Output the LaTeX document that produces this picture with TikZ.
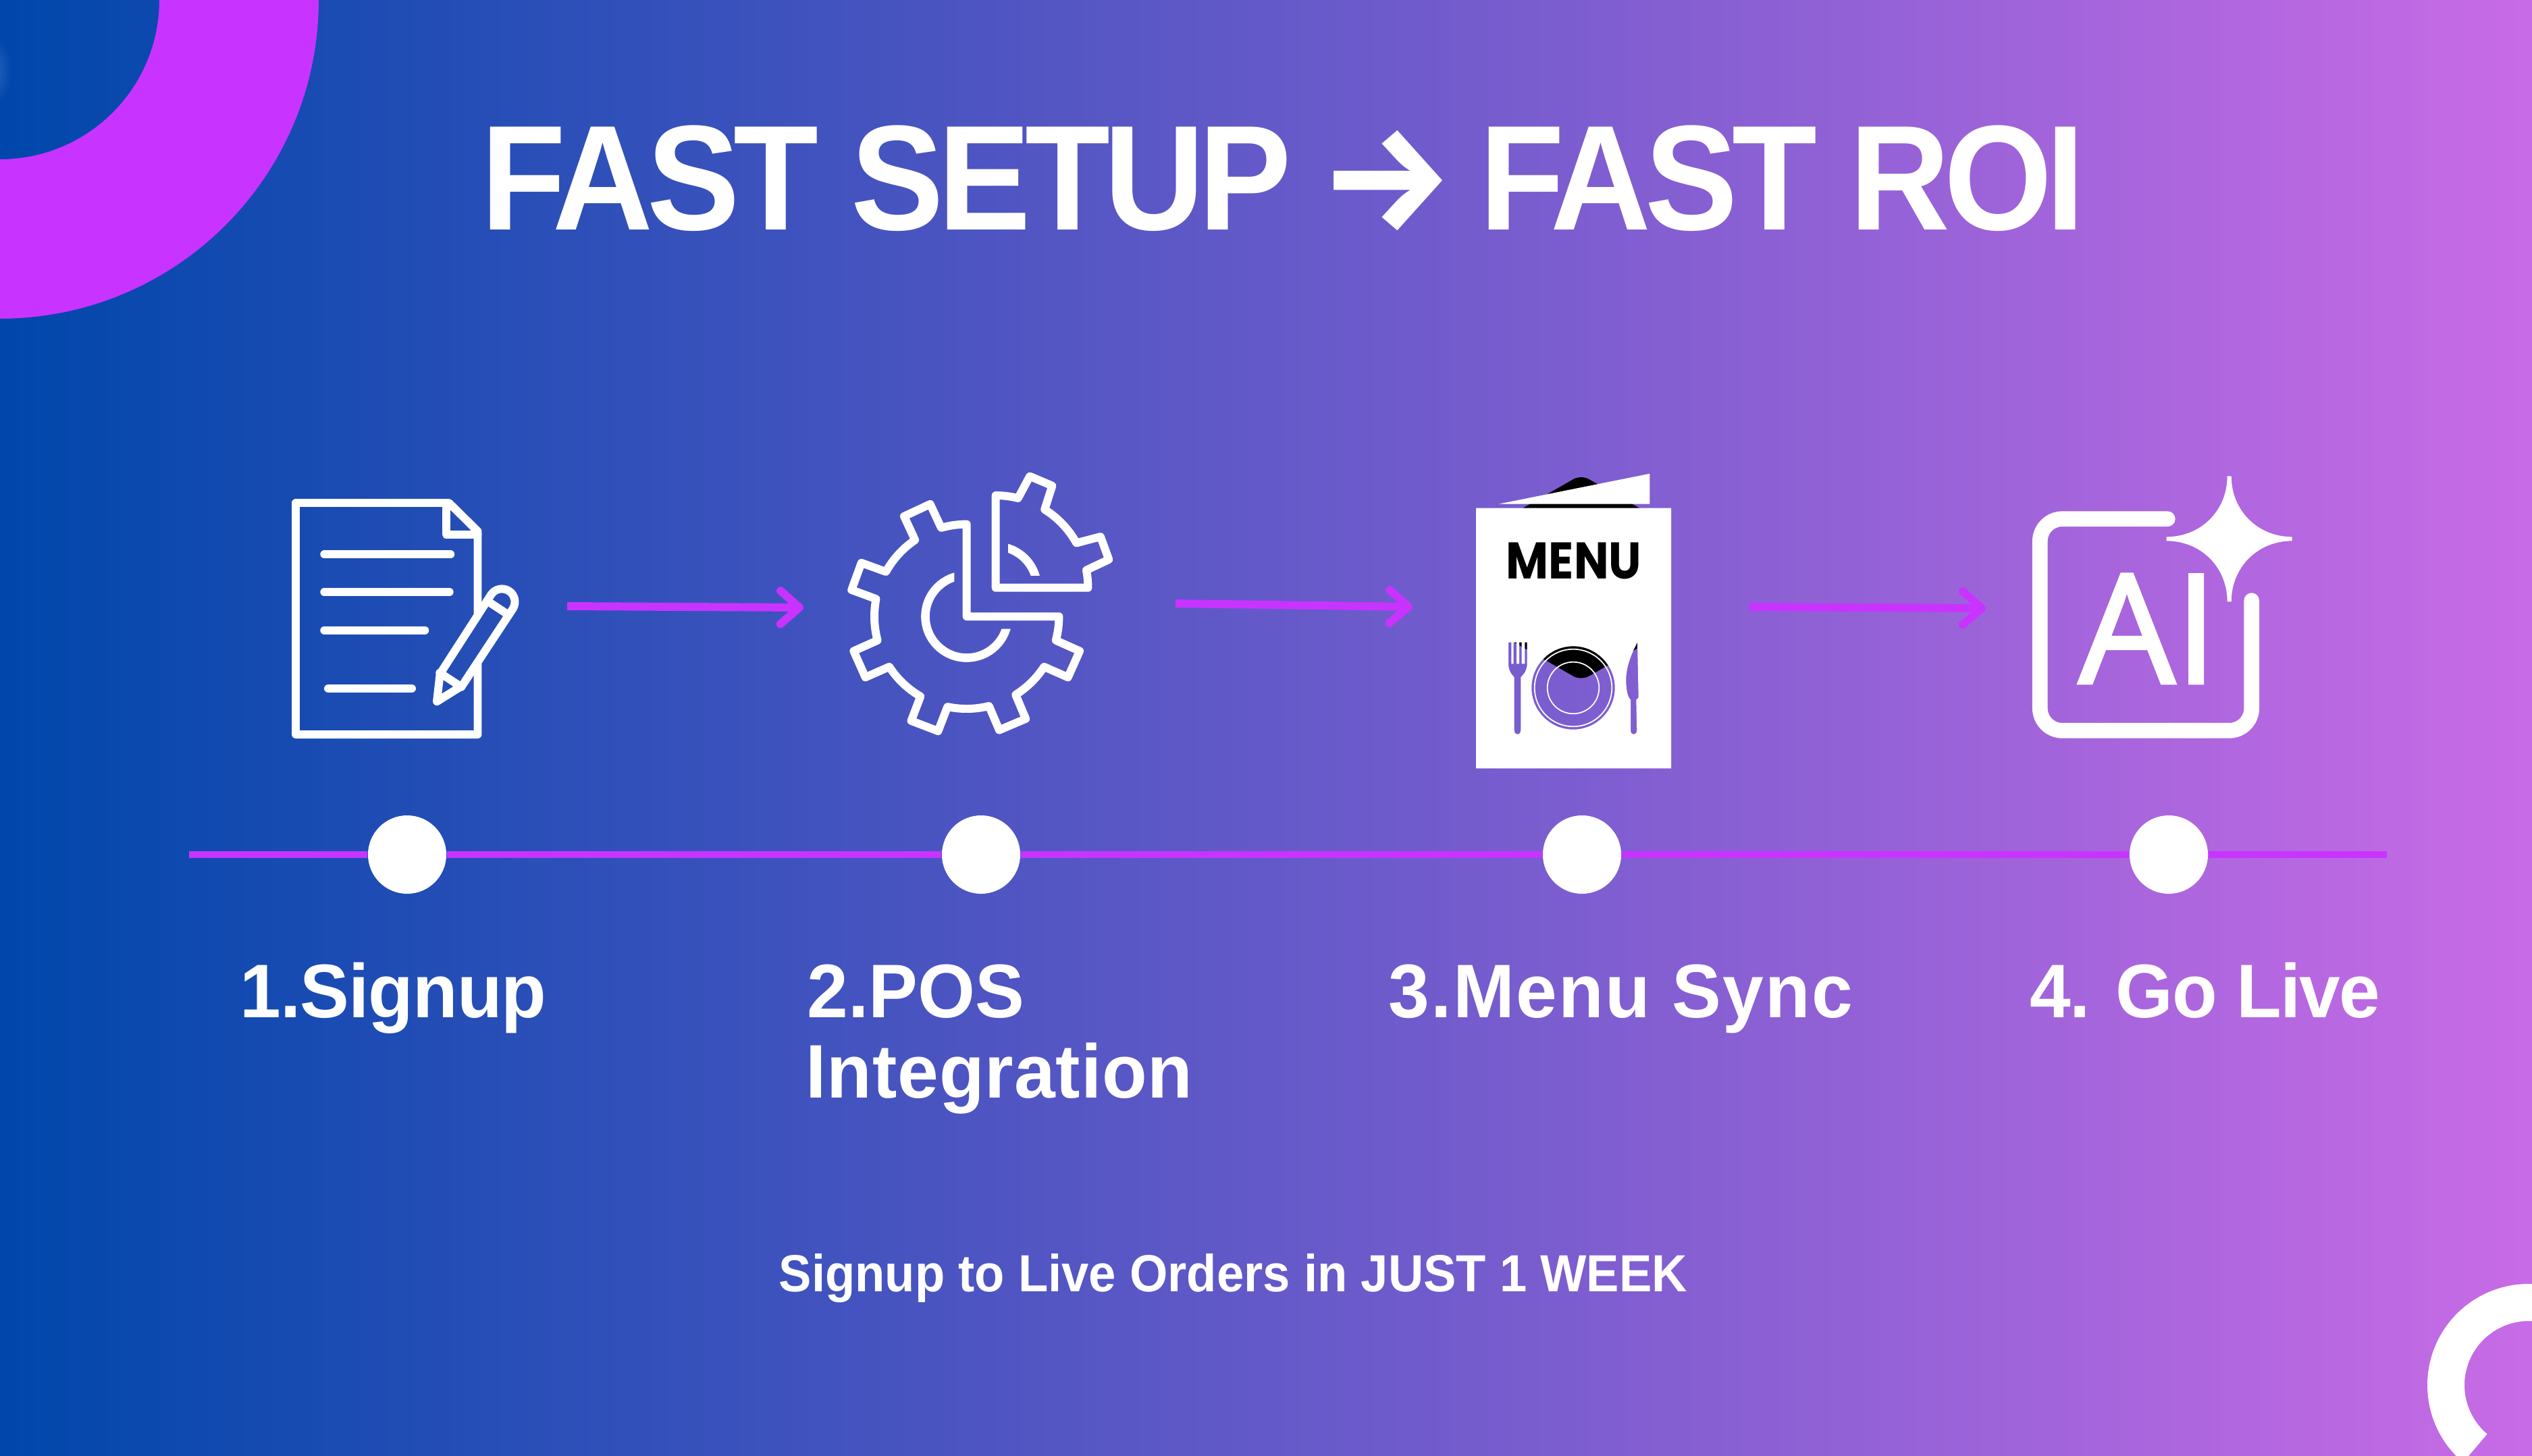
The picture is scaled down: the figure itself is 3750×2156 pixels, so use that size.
\documentclass[tikz,border=0pt]{standalone}
\usepackage{fontspec}
\usepackage{xcolor}
\usetikzlibrary{arrows.meta}
\usetikzlibrary{positioning}
\setmainfont{Liberation Sans}
\newfontfamily\titlefont[LetterSpace=-4,FakeStretch=0.93]{Liberation Sans Bold}
\newfontfamily\stepfont[FakeStretch=0.97]{Liberation Sans Bold}
\newfontfamily\noteFont[FakeStretch=0.937]{Liberation Sans Bold}
\newfontfamily\arrowfont{Fira Sans Bold}
\newfontfamily\menufont[FakeStretch=0.9]{Poppins}
\newfontfamily\aifont[FakeBold=2]{Open Sans}
\definecolor{BG-LEFT}{RGB}{0,71,171}
\definecolor{BG-RIGHT}{RGB}{200,107,230}
\definecolor{VIOLET}{RGB}{201,51,255}

\begin{document}
\begin{tikzpicture}[x=0.01cm,y=-0.01cm,
		icon_line/.style={draw=white,line width=3.4pt,line join=round,line cap=round},
		flow_arrow/.style={draw=VIOLET,line width=3.4pt,-{Straight Barb[length=8pt,width=14pt,round]}},
		step_dot/.style={circle,fill=white,inner sep=0pt,minimum size=33pt},
		step_label/.style={text=white,inner sep=0pt,anchor=base west,font=\stepfont\fontsize{32}{33.9}\selectfont}]
			\useasboundingbox (0,0) rectangle (3750,2156);
			\clip (0,0) rectangle (3750,2156);

			% draw background
			\shade[left color=BG-LEFT,right color=BG-RIGHT] (0,0) rectangle (3750,2156);
			\shade[inner color=BG-LEFT!85!white,outer color=BG-LEFT] (-8,105) ellipse (25 and 50);

			% draw corner rings
			\fill[VIOLET,even odd rule] (0,0) circle (472) (0,0) circle (236);
			\fill[white] ([shift={(3745,2052)}]130.3:150) arc[start angle=130.3,end angle=330,radius=150]
				-- ([shift={(3745,2052)}]330:95) arc[start angle=330,end angle=130.3,radius=95] -- cycle;

			% draw title
			\node (title) at (712,340) [anchor=base west,inner sep=0pt,text=white,font=\titlefont\fontsize{63}{63}\selectfont]
				{FAST SETUP\hspace{12pt}{\arrowfont→}\hspace{10.5pt}FAST ROI};

			% draw document icon
			\draw[icon_line] (707.5,985) -- (707.5,1088) -- (438,1088) -- (438,745) -- (665,745) -- (707.5,787) -- (707.5,911);
			\draw[icon_line] (660.7,745) -- (660.7,791.7) -- (707.5,791.7);
			\draw[icon_line] (480.3,821.3) -- (667.3,821.3);
			\draw[icon_line] (480.3,877) -- (665.7,877);
			\draw[icon_line] (480.3,933.7) -- (629.3,933.7);
			\draw[icon_line] (486,1020) -- (610,1020);
			\draw[icon_line] (647,1039.3) -- (651.7,998.3) -- (727.3,881)
				arc[start angle=213.4,end angle=393.4,radius=19.2] -- (684.3,1016) -- cycle;
			\draw[icon_line] (721.3,890) -- (753.3,911);
			\draw[icon_line] (651.3,996.7) -- (683.3,1017.7);

			% draw gear icon
			\draw[icon_line,shift={(1431.7,913.3)}] (0,-136.7) -- (0,0) -- (136.7,0)
				\foreach \a [remember=\a as \p (initially -9)] in {24,67,111,156,200,245} {
					arc[start angle=\p+9,end angle=\a-9,radius=136.7] -- ({\a-7}:175) -- ({\a+7}:175) -- ({\a+9}:136.7)
				} arc[start angle=254,end angle=270,radius=136.7] -- cycle;
			\draw[icon_line,shift={(1474.7,870.7)}] (0,0) -- (0,-136.7)
				\foreach \a [remember=\a as \p (initially 261)] in {293,340} {
					arc[start angle=\p+9,end angle=\a-9,radius=136.7] -- ({\a-6}:172.7) -- ({\a+6}:172.7) -- ({\a+9}:136.7)
				} arc[start angle=349,end angle=360,radius=136.7] -- cycle;
			\begin{scope}
				\clip (1300,800) -- (1413.3,800) -- (1413.3,931.7) -- (1560,931.7) -- (1560,1040) -- (1300,1040) -- cycle;
				\draw[white,line width=3.6pt] (1431.7,913.3) circle (61.2);
			\end{scope}
			\begin{scope}
				\clip (1493,740) rectangle (1600,852.7);
				\draw[white,line width=3.6pt] (1474.7,870.7) circle (61.2);
			\end{scope}

			% draw menu icon
			\fill[black,rounded corners=3.7pt] (2341.7,703.3) -- (2474,779) -- (2474,932.3) -- (2341.7,1008.3) -- (2187,919.7) -- (2187,792) -- cycle;
			\fill[white,even odd rule] (2186,752.7) rectangle (2475,1138.3)
				(2330,1019) circle (61.7)
				(2234,951.7) -- (2238.3,951.7) -- (2238.3,983.3) -- (2241.7,983.3) -- (2241.7,951.7) -- (2246,951.7) -- (2246,983.3) -- (2250,983.3)
				-- (2250,951.7) -- (2253.7,951.7) -- (2253.7,983.3) -- (2258.3,983.3) -- (2258.3,951.7) -- (2261.7,951.7) -- (2261.7,983.3)
				.. controls (2261.7,995) and (2255,1000) .. (2252.3,1003.3) -- (2252.3,1081.7)
				.. controls (2252.3,1090) and (2242.7,1090) .. (2242.7,1081.7) -- (2242.7,1003.3)
				.. controls (2240,1000) and (2234,995) .. (2234,983.3) -- cycle
				(2425,951.7) .. controls (2415,970) and (2408.3,990) .. (2408.3,1006.7)
				.. controls (2408.3,1020) and (2410,1032) .. (2415,1036.7) -- (2415,1081.7)
				.. controls (2415,1090) and (2424.3,1090) .. (2424.3,1081.7) -- (2423.3,1036.7) -- (2426.7,1033.3) -- cycle;
			\fill[white] (2219.3,746.7) -- (2443.3,701.7) -- (2443.3,746.7) -- cycle;
			\draw[white,line width=0.5pt] (2330,1019) circle (57.3);
			\draw[white,line width=0.5pt] (2330,1019) circle (38.3);
			\node (menu_text) at (2331,857.7) [anchor=base,inner sep=0pt,text=black,font=\menufont\bfseries\fontsize{21.7}{22}\selectfont] {MENU};

			% draw AI icon
			\draw[draw=white,line width=6.45pt,line cap=round,rounded corners=9.4pt] (3210.3,768.7) -- (3021.3,768.7) -- (3021.3,1082.3) -- (3334.7,1082.3) -- (3334.7,889.7);
			\node (ai_text) at (3078,1012) [anchor=base west,inner sep=0pt,text=white,font=\aifont\fontsize{64}{64}\selectfont] {AI};
			\fill[white,shift={(3301.7,798.3)},line join=round] (3,-93) .. controls (3,-42) and (42,-3) .. (93,-3) -- (93,3)
				.. controls (42,3) and (3,42) .. (3,93) -- (-3,93) .. controls (-3,42) and (-42,3) .. (-93,3) -- (-93,-3)
				.. controls (-42,-3) and (-3,-42) .. (-3,-93) -- cycle;

			% draw arrows between icons
			\coordinate (arrow_a_start) at (840,898);
			\coordinate (arrow_a_end) at (1190,900);
			\coordinate (arrow_b_start) at (1741,894);
			\coordinate (arrow_b_end) at (2092,899);
			\coordinate (arrow_c_start) at (2591,899);
			\coordinate (arrow_c_end) at (2941,901);
			\draw[flow_arrow] (arrow_a_start) -- (arrow_a_end);
			\draw[flow_arrow] (arrow_b_start) -- (arrow_b_end);
			\draw[flow_arrow] (arrow_c_start) -- (arrow_c_end);

			% draw timeline
			\coordinate (line_start) at (280,1266);
			\coordinate (line_end) at (3535,1266);
			\node (dot_signup) at (603,1266) [step_dot] {};
			\node (dot_pos) at (1453,1266) [step_dot] {};
			\node (dot_menu) at (2343,1266) [step_dot] {};
			\node (dot_live) at (3212,1266) [step_dot] {};
			\draw[VIOLET,line width=2.6pt] (line_start) -- (dot_signup) -- (dot_pos) -- (dot_menu) -- (dot_live) -- (line_end);

			% draw labels
			\node (label_signup) at (355,1507) [step_label] {\addfontfeature{LetterSpace=-0.9}1.Signup};
			\node (label_pos) at (1195,1507) [step_label] {2.POS};
			\node (label_integration) at (1193,1626) [step_label] {\addfontfeature{LetterSpace=0.8}Integration};
			\node (label_menu) at (2056,1507) [step_label] {\addfontfeature{LetterSpace=2}3.Menu Sync};
			\node (label_live) at (3006,1507) [step_label] {\addfontfeature{LetterSpace=-1.6}4. Go Live};
			\node (note) at (1153,1913) [anchor=base west,inner sep=0pt,text=white,font=\noteFont\fontsize{22}{24}\selectfont] {Signup to Live Orders in JUST 1 WEEK};
		\end{tikzpicture}
\end{document}
